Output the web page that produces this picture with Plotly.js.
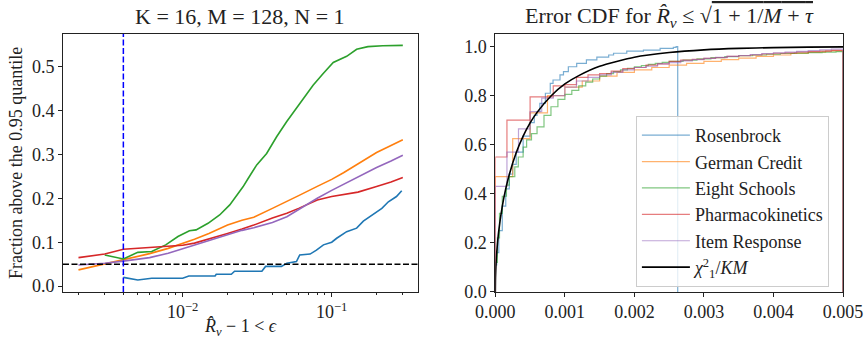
<!DOCTYPE html>
<html>
<head>
<meta charset="utf-8">
<script src="https://cdn.plot.ly/plotly-3.0.1.min.js"></script>
<style>html,body{margin:0;padding:0;background:#fff;}#chart{width:864px;height:339px;}</style>
</head>
<body>
<div id="chart"></div>
<script>
// ---------- Left panel: fraction above the 0.95 quantile vs epsilon ----------
const epsGrid = [0.002, 0.003, 0.004, 0.005, 0.006, 0.008, 0.01, 0.012, 0.015, 0.02, 0.025, 0.03, 0.04, 0.05, 0.06, 0.08, 0.1, 0.12, 0.15, 0.2, 0.25, 0.3];
const germanFrac = [0.037, 0.051, 0.061, 0.068, 0.074, 0.086, 0.097, 0.107, 0.12, 0.139, 0.15, 0.157, 0.177, 0.194, 0.206, 0.227, 0.243, 0.258, 0.278, 0.304, 0.32, 0.333];
const pharmaFrac = [0.065, 0.073, 0.084, 0.086, 0.088, 0.09, 0.093, 0.098, 0.107, 0.12, 0.13, 0.139, 0.155, 0.166, 0.177, 0.196, 0.204, 0.209, 0.214, 0.227, 0.237, 0.247];
const itemFrac = [0.048, 0.052, 0.057, 0.061, 0.065, 0.075, 0.085, 0.093, 0.103, 0.117, 0.127, 0.133, 0.145, 0.158, 0.175, 0.2, 0.218, 0.232, 0.248, 0.27, 0.285, 0.298];

const schoolsEps = [0.003, 0.004, 0.005, 0.0062, 0.0077, 0.0093, 0.0111, 0.0123, 0.0148, 0.0177, 0.0207, 0.0228, 0.0254, 0.0275, 0.0314, 0.0366, 0.0427, 0.0498, 0.058, 0.066, 0.075, 0.0877, 0.1024, 0.126, 0.147, 0.175, 0.22, 0.3];
const schoolsFrac = [0.071, 0.062, 0.077, 0.079, 0.094, 0.113, 0.126, 0.128, 0.143, 0.162, 0.185, 0.204, 0.226, 0.245, 0.276, 0.302, 0.34, 0.374, 0.405, 0.431, 0.457, 0.484, 0.509, 0.523, 0.539, 0.545, 0.547, 0.548];

const rosenEps = [0.004, 0.005, 0.0062, 0.01, 0.011, 0.0165, 0.0168, 0.0212, 0.0223, 0.034, 0.036, 0.046, 0.05, 0.058, 0.061, 0.0716, 0.079, 0.088, 0.1, 0.108, 0.126, 0.147, 0.163, 0.186, 0.217, 0.24, 0.272, 0.295];
const rosenFrac = [0.02, 0.014, 0.018, 0.018, 0.023, 0.023, 0.027, 0.027, 0.034, 0.034, 0.045, 0.045, 0.052, 0.056, 0.071, 0.073, 0.082, 0.094, 0.1, 0.109, 0.124, 0.132, 0.148, 0.162, 0.177, 0.192, 0.204, 0.217];

const quantileLevel = 0.05;   // horizontal dashed reference
const epsMarker = 0.004;      // vertical dashed reference
const leftMajorTicks = [0.01, 0.1];
const leftMajorLabels = ['10<sup>−2</sup>', '10<sup>−1</sup>'];
const leftMinorTicks = [0.002, 0.003, 0.004, 0.005, 0.006, 0.007, 0.008, 0.009, 0.02, 0.03, 0.04, 0.05, 0.06, 0.07, 0.08, 0.09, 0.2, 0.3];

// ---------- Right panel: error CDFs (cumulative step histograms) ----------
const histEnd = 0.005;
const bins30 = [0, 0.000167, 0.000333, 0.0005, 0.000667, 0.000833, 0.001, 0.001167, 0.001333, 0.0015, 0.001667, 0.001833, 0.002, 0.002167, 0.002333, 0.0025, 0.002667, 0.002833, 0.003, 0.003167, 0.003333, 0.0035, 0.003667, 0.003833, 0.004, 0.004167, 0.004333, 0.0045, 0.004667, 0.004833];
const bins20 = [0, 0.00025, 0.0005, 0.00075, 0.001, 0.00125, 0.0015, 0.00175, 0.002, 0.00225, 0.0025, 0.00275, 0.003, 0.00325, 0.0035, 0.00375, 0.004, 0.00425, 0.0045, 0.00475];
const germanCdf = [0.47, 0.625, 0.73, 0.80, 0.835, 0.86, 0.88, 0.895, 0.905, 0.915, 0.925, 0.932, 0.94, 0.947, 0.953, 0.96, 0.966, 0.972, 0.978, 0.983];
const pharmaCdf = [0.55, 0.70, 0.70, 0.795, 0.795, 0.84, 0.845, 0.875, 0.885, 0.89, 0.90, 0.91, 0.915, 0.925, 0.93, 0.94, 0.945, 0.948, 0.952, 0.955, 0.96, 0.963, 0.966, 0.97, 0.973, 0.975, 0.978, 0.98, 0.982, 0.985];
const itemCdf = [0.43, 0.57, 0.665, 0.735, 0.79, 0.80, 0.835, 0.86, 0.875, 0.885, 0.895, 0.905, 0.915, 0.92, 0.93, 0.935, 0.942, 0.947, 0.952, 0.956, 0.96, 0.964, 0.968, 0.972, 0.975, 0.978, 0.981, 0.984, 0.987, 0.99];
const schoolsBins = [0, 0.00003, 0.00006, 0.0001, 0.00016, 0.0002, 0.00028, 0.00033, 0.0004, 0.00045, 0.00052, 0.0006, 0.0007, 0.0008, 0.0009, 0.001, 0.0011, 0.0012, 0.0013, 0.0014, 0.0015, 0.0016, 0.0017, 0.0018, 0.0019, 0.002, 0.0021, 0.0022, 0.0023, 0.0024, 0.0025, 0.0027, 0.0029, 0.0031, 0.0033, 0.0035, 0.0037, 0.0039, 0.0041, 0.0043, 0.0045, 0.0047, 0.0049];
const schoolsCdf = [0.12, 0.22, 0.32, 0.39, 0.435, 0.47, 0.51, 0.55, 0.59, 0.62, 0.645, 0.673, 0.72, 0.755, 0.785, 0.805, 0.822, 0.84, 0.855, 0.868, 0.88, 0.89, 0.898, 0.905, 0.912, 0.918, 0.923, 0.928, 0.932, 0.936, 0.94, 0.945, 0.95, 0.955, 0.959, 0.963, 0.966, 0.969, 0.972, 0.974, 0.976, 0.978, 0.98];
const rosenBins = [0, 0.00002, 0.00005, 0.0001, 0.00015, 0.0002, 0.00025, 0.0003, 0.0004, 0.0005, 0.00056, 0.0006, 0.00064, 0.00072, 0.00079, 0.00083, 0.00093, 0.00098, 0.00105, 0.00117, 0.00131, 0.00146, 0.00163, 0.0017, 0.00189, 0.00213, 0.00237, 0.00256, 0.0026];
const rosenCdf = [0.11, 0.16, 0.25, 0.35, 0.42, 0.48, 0.52, 0.57, 0.635, 0.69, 0.72, 0.735, 0.769, 0.81, 0.85, 0.864, 0.885, 0.898, 0.918, 0.932, 0.946, 0.957, 0.966, 0.973, 0.982, 0.986, 0.993, 0.997, 1.0];
const rosenEnd = 0.002623;
const chiX = [0, 0.0000025, 0.00001, 0.00002, 0.00005, 0.0001, 0.00015, 0.0002, 0.0003, 0.0004, 0.0005, 0.0006, 0.0008, 0.001, 0.0012, 0.0015, 0.002, 0.0025, 0.003, 0.0035, 0.004, 0.0045, 0.005];
const chiY = [0, 0.057, 0.114, 0.16, 0.251, 0.349, 0.421, 0.478, 0.567, 0.635, 0.689, 0.732, 0.799, 0.848, 0.882, 0.92, 0.957, 0.976, 0.987, 0.993, 0.996, 0.998, 0.999];

const names = ['Rosenbrock', 'German Credit', 'Eight Schools', 'Pharmacokinetics', 'Item Response'];
const colors = ['#1f77b4', '#ff7f0e', '#2ca02c', '#d62728', '#9467bd'];
const fadedColors = ['rgba(31,119,180,0.6)', 'rgba(255,127,14,0.6)', 'rgba(44,160,44,0.6)', 'rgba(214,39,40,0.6)', 'rgba(148,103,189,0.6)'];

function stepOutline(edges, cdf, end) {
  const x = [0].concat(edges, [end, end]);
  const y = [0].concat(cdf, [cdf[cdf.length - 1], 0]);
  return {x, y};
}

const traces = [];
const leftSeries = [
  [rosenEps, rosenFrac], [epsGrid, germanFrac], [schoolsEps, schoolsFrac], [epsGrid, pharmaFrac], [epsGrid, itemFrac]
];
leftSeries.forEach((s, i) => {
  traces.push({type: 'scatter', mode: 'lines', x: s[0], y: s[1], xaxis: 'x', yaxis: 'y',
    name: names[i], showlegend: false, line: {color: colors[i], width: 1.6}, hoverinfo: 'skip'});
});
const rightSeries = [
  stepOutline(rosenBins, rosenCdf, rosenEnd),
  stepOutline(bins20, germanCdf, histEnd),
  stepOutline(schoolsBins, schoolsCdf, histEnd),
  stepOutline(bins30, pharmaCdf, histEnd),
  stepOutline(bins30, itemCdf, histEnd)
];
rightSeries.forEach((s, i) => {
  traces.push({type: 'scatter', mode: 'lines', x: s.x, y: s.y, xaxis: 'x2', yaxis: 'y2',
    name: names[i], line: {color: fadedColors[i], width: 1.2, shape: 'hv'}, hoverinfo: 'skip'});
});
traces.push({type: 'scatter', mode: 'lines', x: chiX, y: chiY, xaxis: 'x2', yaxis: 'y2',
  name: '<i>χ</i><sup>2</sup><sub>1</sub>/<i>KM</i>', line: {color: '#000', width: 1.6, shape: 'spline', smoothing: 0.6}, hoverinfo: 'skip'});

const FONT = 'Liberation Serif';
const axisBase = {showline: true, mirror: true, linecolor: '#222', linewidth: 1, ticks: 'outside', ticklen: 4,
  tickcolor: '#222', showgrid: false, zeroline: false, tickfont: {family: FONT, size: 18, color: '#222'}};
const yDom = [0.139, 0.9];

const layout = {
  width: 864, height: 339,
  margin: {l: 0, r: 0, t: 0, b: 0},
  paper_bgcolor: '#fff', plot_bgcolor: '#fff',
  font: {family: FONT, size: 18, color: '#222'},
  xaxis: Object.assign({}, axisBase, {
    type: 'log', domain: [0.0729, 0.4838], range: [-2.803, -0.421], anchor: 'y',
    tickmode: 'array', tickvals: leftMajorTicks, ticktext: leftMajorLabels,
    minor: {tickmode: 'array', tickvals: leftMinorTicks, ticks: 'outside', ticklen: 2, tickcolor: '#222', showgrid: false},
    title: {text: '<i>R̂</i><sub><i>ν</i></sub> − 1 &lt; <i>ϵ</i>', font: {family: FONT, size: 18}, standoff: 2}
  }),
  yaxis: Object.assign({}, axisBase, {
    domain: yDom, range: [-0.013, 0.574], anchor: 'x', tick0: 0, dtick: 0.1, tickformat: '.1f',
    title: {text: 'Fraction above the 0.95 quantile', font: {family: FONT, size: 18}, standoff: 4}
  }),
  xaxis2: Object.assign({}, axisBase, {
    domain: [0.5733, 0.9757], range: [0, 0.005], anchor: 'y2', tick0: 0, dtick: 0.001, tickformat: '.3f'
  }),
  yaxis2: Object.assign({}, axisBase, {
    domain: yDom, range: [0, 1.052], anchor: 'x2', tick0: 0, dtick: 0.2, tickformat: '.1f'
  }),
  shapes: [
    {type: 'line', xref: 'x domain', yref: 'y', x0: 0, x1: 1, y0: quantileLevel, y1: quantileLevel,
      line: {color: '#000', width: 1.5, dash: '6px,2.5px'}},
    {type: 'line', xref: 'x', yref: 'y domain', x0: epsMarker, x1: epsMarker, y0: 0, y1: 1,
      line: {color: '#0000ff', width: 1.5, dash: '6px,2.5px'}}
  ],
  annotations: [
    {text: 'K = 16, M = 128, N = 1', xref: 'paper', yref: 'paper', x: 0.2783, y: 0.95, xanchor: 'center', yanchor: 'middle',
      showarrow: false, font: {family: FONT, size: 22, color: '#222'}},
    {text: 'Error CDF for <i>R̂</i><sub><i>ν</i></sub> ≤ √<span style="text-decoration:overline">1 + 1/<i>M</i> + <i>τ</i></span>',
      xref: 'paper', yref: 'paper', x: 0.7745, y: 0.95, xanchor: 'center', yanchor: 'middle',
      showarrow: false, font: {family: FONT, size: 22, color: '#222'}}
  ],
  legend: {x: 0.736, y: 0.658, xanchor: 'left', yanchor: 'top', bgcolor: 'rgba(255,255,255,0.8)',
    bordercolor: '#cccccc', borderwidth: 1, itemwidth: 48, font: {family: FONT, size: 18, color: '#222'}, tracegroupgap: 0}
};

Plotly.newPlot('chart', traces, layout, {displayModeBar: false, staticPlot: true});
</script>
</body>
</html>
